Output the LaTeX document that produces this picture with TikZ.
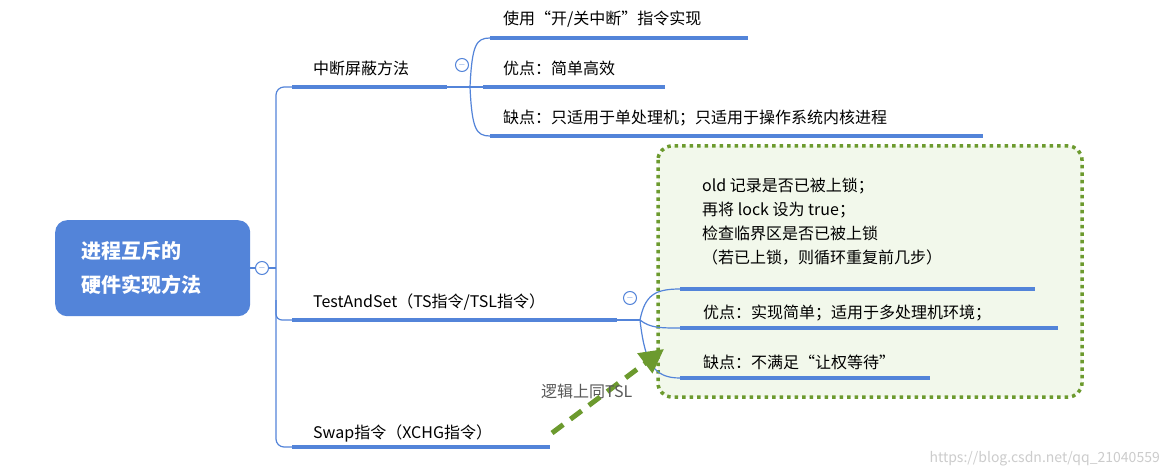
\documentclass[tikz,border=0pt]{standalone}
\usepackage{fontspec}
\setmainfont{Noto Sans CJK SC}
\usetikzlibrary{arrows.meta}
\definecolor{bl}{HTML}{5384D9}
\definecolor{gr}{HTML}{6C9A2E}
\definecolor{gf}{HTML}{F2F8EB}
\begin{document}
\begin{tikzpicture}[x=1pt,y=-1pt,
 lbl/.style={anchor=base west,font=\fontsize{16}{20}\selectfont,inner sep=0},
 ul/.style={bl,line width=4pt},
 br/.style={bl,line width=1.2pt},
 col/.style={circle,draw=bl,fill=white,line width=1pt,minimum size=13pt,inner sep=0,font=\fontsize{9}{9}\selectfont\color{bl}}]
\useasboundingbox (0,0) rectangle (1170,473);
\fill[white] (0,0) rectangle (1170,473);
% green box
\draw[gr,fill=gf,line width=3.5pt,dash pattern=on 3.5pt off 4pt,rounded corners=14pt] (658,146) rectangle (1082,397);
% root
\node[fill=bl,rounded corners=12pt,minimum width=195pt,minimum height=96pt,anchor=north west] (root) at (55,220) {};
\node[anchor=west,text=white,font=\fontsize{20}{34}\selectfont\bfseries,align=left] at (78,268) {进程互斥的\\硬件实现方法};
% trunk
\coordinate (t0) at (250,268);
\draw[br,rounded corners=8pt] (292,87) -- (276,87) -- (276,447) -- (292,447);
\draw[br] (t0) -- (276,268);
\draw[br,rounded corners=6pt] (276,300) -- (276,320) -- (292,320);
\draw[ul] (292,87) -- (447,87);
\draw[ul] (292,320) -- (617,320);
\draw[ul] (292,447) -- (550,447);
\node[col] (c0) at (262,268) {$-$};
\node[lbl] (n1) at (313,75) {中断屏蔽方法};
\node[lbl] (n2) at (313,307) {TestAndSet（TS指令/TSL指令）};
\node[lbl] (n3) at (313,438) {Swap指令（XCHG指令）};
% branch 1
\coordinate (b1) at (472,87);
\draw[br] (447,87) -- (483,87);
\draw[br] (470,87) .. controls (472,45) and (476,38) .. (490,38);
\draw[br] (470,87) .. controls (472,129) and (476,136) .. (490,136);
\draw[ul] (490,38) -- (748,38);
\draw[ul] (483,87) -- (665,87);
\draw[ul] (490,136) -- (983,136);
\node[col] (c1) at (462,65) {$-$};
\node[lbl] (a1) at (503,25) {使用“开/关中断”指令实现};
\node[lbl] (a2) at (503,75) {优点：简单高效};
\node[lbl] (a3) at (503,124) {缺点：只适用于单处理机；只适用于操作系统内核进程};
% branch 2
\draw[br] (617,320) -- (640,320);
\draw[br] (640,320) .. controls (645,295) and (655,289) .. (680,289);
\draw[br] (640,320) .. controls (650,328) and (660,328) .. (680,328);
\draw[br] (640,320) .. controls (645,365) and (655,378) .. (680,378);
\draw[ul] (680,289) -- (1035,289);
\draw[ul] (680,328) -- (1058,328);
\draw[ul] (680,378) -- (930,378);
\node[col] (c2) at (630,298) {$-$};
\node[lbl,align=left,font=\fontsize{16}{24}\selectfont,anchor=north west] (d1) at (702,178) {old 记录是否已被上锁；\\再将 lock 设为 true；\\检查临界区是否已被上锁\\（若已上锁，则循环重复前几步）};
\node[lbl] (d2) at (703,318) {优点：实现简单；适用于多处理机环境；};
\node[lbl] (d3) at (703,368) {缺点：不满足“让权等待”};
% arrow
\coordinate (s) at (552,433);
\coordinate (e) at (664,349);
\draw[gr,line width=5pt,dash pattern=on 14pt off 9pt,-{Triangle[length=24pt,width=24pt]}] (s) -- (e);
\node[anchor=base west,inner sep=0,text=black!65,font=\fontsize{16}{20}\selectfont] (lab) at (541,397) {逻辑上同\textit{TSL}};
\node[anchor=base east,inner sep=0,text=black!20,font=\fontsize{14}{16}\selectfont] (wm) at (1160,462) {https://blog.csdn.net/qq\_21040559};
\end{tikzpicture}
\end{document}
